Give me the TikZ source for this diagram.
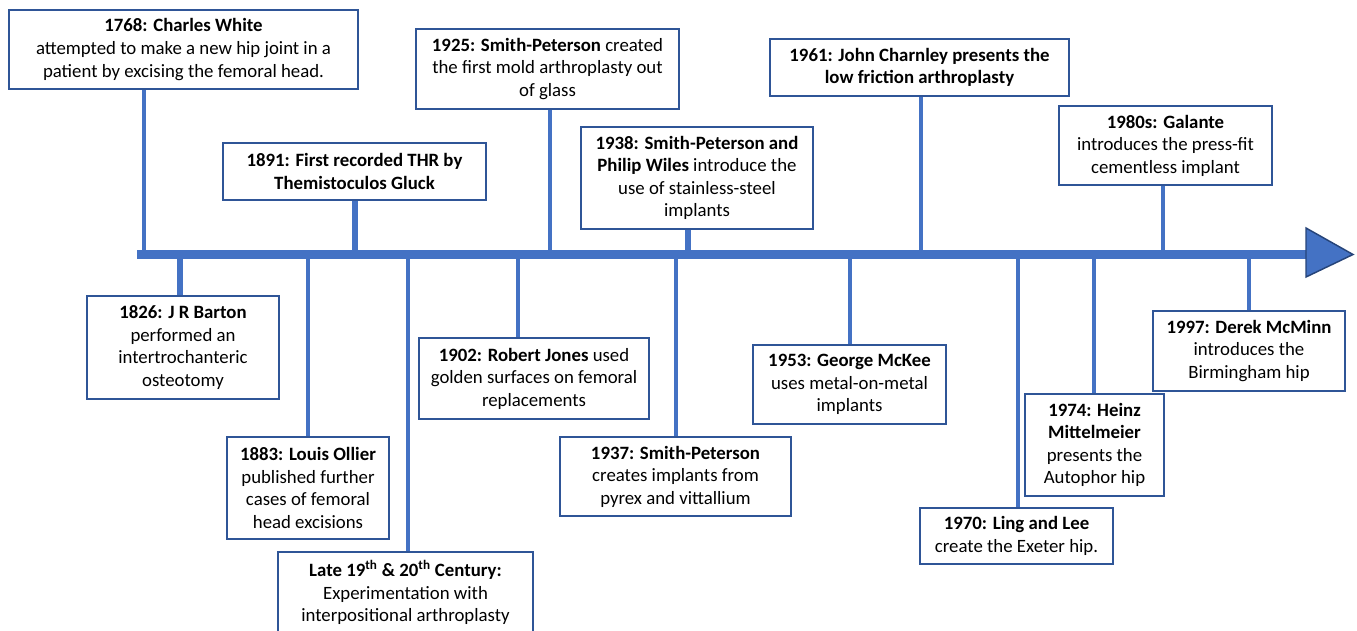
\documentclass[tikz,border=0pt]{standalone}
\usepackage{fontspec}
\setmainfont{Carlito}
\usepackage{xcolor}
\usepackage{tikz}
\usetikzlibrary{calc}
\definecolor{hipblue}{HTML}{4472C4}
\definecolor{hipdark}{HTML}{2F5597}
\tikzset{
  hipbox/.style   = {rectangle, draw=hipdark, line width=1.2pt, fill=white,
                     align=center, inner sep=2pt,
                     font=\fontsize{14.1}{16.9}\selectfont},
  hipstem/.style  = {draw=hipblue, line width=3pt},
  hipstemw/.style = {draw=hipblue, line width=4.5pt},
  hipaxis/.style  = {draw=hipblue, line width=6.75pt},
  hiphead/.style  = {fill=hipblue, draw=hipdark!80!black, line width=1.1pt, line join=miter},
}

\begin{document}
\begin{tikzpicture}[x=0.75pt, y=-0.75pt]
  \useasboundingbox (0,0) rectangle (1357,631);

  \coordinate (start) at (137,254.5);
  \coordinate (end)   at (1306,254.5);

  \node[hipbox, minimum width=261.75pt, minimum height=59.25pt] (n1768) at (183.5,49.5)
        {\textbf{1768: Charles White}\\attempted to make a new hip joint in a\\patient by excising the femoral head.};
  \node[hipbox, minimum width=197.25pt, minimum height=42.75pt] (n1891) at (354.5,171.5)
        {\textbf{1891: First recorded THR by}\\\textbf{Themistoculos Gluck}};
  \node[hipbox, minimum width=197.25pt, minimum height=60pt] (n1925) at (547.5,69)
        {\textbf{1925: Smith-Peterson} created\\the first mold arthroplasty out\\of glass};
  \node[hipbox, minimum width=174pt, minimum height=76.5pt] (n1938) at (697,178)
        {\textbf{1938: Smith-Peterson and}\\\textbf{Philip Wiles} introduce the\\use of stainless-steel\\implants};
  \node[hipbox, minimum width=224.25pt, minimum height=42.75pt] (n1961) at (919.5,67.5)
        {\textbf{1961: John Charnley presents the}\\\textbf{low friction arthroplasty}};
  \node[hipbox, minimum width=159.75pt, minimum height=59.25pt] (n1980) at (1165.5,145.5)
        {\textbf{1980s: Galante}\\introduces the press-fit\\cementless implant};

  \node[hipbox, minimum width=144pt, minimum height=77.25pt] (n1826) at (183,347.5)
        {\textbf{1826: J R Barton}\\performed an\\intertrochanteric\\osteotomy};
  \node[hipbox, minimum width=121.5pt, minimum height=76.5pt] (n1883) at (308,488)
        {\textbf{1883: Louis Ollier}\\published further\\cases of femoral\\head excisions};
  \node[hipbox, minimum width=191.25pt, minimum height=60.75pt] (nlate) at (405.5,592.5)
        {\textbf{Late 19\textsuperscript{th} \& 20\textsuperscript{th} Century:}\\Experimentation with\\interpositional arthroplasty};
  \node[hipbox, minimum width=172.5pt, minimum height=60.75pt] (n1902) at (534,378.5)
        {\textbf{1902: Robert Jones} used\\golden surfaces on femoral\\replacements};
  \node[hipbox, minimum width=173.25pt, minimum height=59.25pt] (n1937) at (675.5,476.5)
        {\textbf{1937: Smith-Peterson}\\creates implants from\\pyrex and vittallium};
  \node[hipbox, minimum width=144.75pt, minimum height=59.25pt] (n1953) at (849.5,384.5)
        {\textbf{1953: George McKee}\\uses metal-on-metal\\implants};
  \node[hipbox, minimum width=144.75pt, minimum height=42pt] (n1970) at (1016.5,536)
        {\textbf{1970: Ling and Lee}\\create the Exeter hip.};
  \node[hipbox, minimum width=104.25pt, minimum height=76.5pt] (n1974) at (1094.5,445)
        {\textbf{1974: Heinz}\\\textbf{Mittelmeier}\\presents the\\Autophor hip};
  \node[hipbox, minimum width=144pt, minimum height=60pt] (n1997) at (1249,351)
        {\textbf{1997: Derek McMinn}\\introduces the\\Birmingham hip};

  \coordinate (t1768) at (144,254.5);
  \coordinate (t1891) at (355,254.5);
  \coordinate (t1925) at (550,254.5);
  \coordinate (t1938) at (688,254.5);
  \coordinate (t1961) at (921,254.5);
  \coordinate (t1980) at (1163,254.5);
  \coordinate (t1826) at (180,254.5);
  \coordinate (t1883) at (308,254.5);
  \coordinate (tlate) at (408,254.5);
  \coordinate (t1902) at (518,254.5);
  \coordinate (t1937) at (676,254.5);
  \coordinate (t1953) at (850,254.5);
  \coordinate (t1970) at (1018,254.5);
  \coordinate (t1974) at (1094,254.5);
  \coordinate (t1997) at (1249,254.5);

  \draw[hipstem]  (t1768) -- (t1768 |- n1768.south);
  \draw[hipstemw] (t1891) -- (t1891 |- n1891.south);
  \draw[hipstem]  (t1925) -- (t1925 |- n1925.south);
  \draw[hipstemw] (t1938) -- (t1938 |- n1938.south);
  \draw[hipstem]  (t1961) -- (t1961 |- n1961.south);
  \draw[hipstem]  (t1980) -- (t1980 |- n1980.south);
  \draw[hipstemw] (t1826) -- (t1826 |- n1826.north);
  \draw[hipstem]  (t1883) -- (t1883 |- n1883.north);
  \draw[hipstem]  (tlate) -- (tlate |- nlate.north);
  \draw[hipstem]  (t1902) -- (t1902 |- n1902.north);
  \draw[hipstem]  (t1937) -- (t1937 |- n1937.north);
  \draw[hipstem]  (t1953) -- (t1953 |- n1953.north);
  \draw[hipstem]  (t1970) -- (t1970 |- n1970.north);
  \draw[hipstem]  (t1974) -- (t1974 |- n1974.north);
  \draw[hipstem]  (t1997) -- (t1997 |- n1997.north);

  \draw[hipaxis] (start) -- (end);
  \draw[hiphead] ($(end)+(0,-26.5)$) -- ($(end)+(47,0)$) -- ($(end)+(0,22.5)$) -- cycle;
\end{tikzpicture}
\end{document}
